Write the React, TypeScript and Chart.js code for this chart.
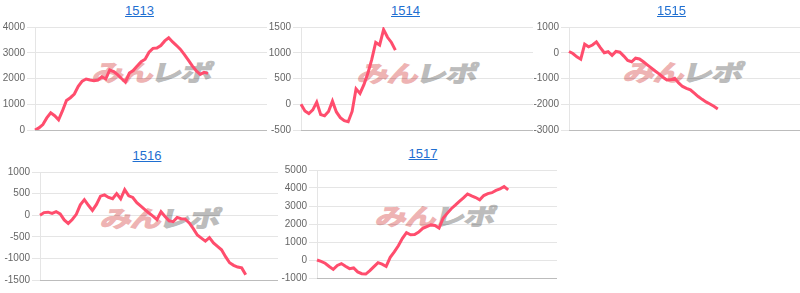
import React, { useEffect, useRef } from "react";
import { Chart, registerables } from "chart.js";

Chart.register(...registerables);

// ---- data ----
const chartTitles = ["1513", "1514", "1515", "1516", "1517"];
const xSlots = Array.from({ length: 60 }, (_, i) => String(i + 1));

const series1513 = [
  0, 80, 210, 470, 667, 556, 393, 750, 1148, 1254, 1396, 1694, 1900, 1980, 1940,
  1910, 1940, 2063, 1980, 2330, 2270, 2150, 2000, 1860, 2210, 2310, 2490, 2650,
  2750, 3020, 3170, 3180, 3280, 3460, 3580, 3420, 3280, 3130, 2930, 2710, 2490,
  2300, 2160, 2240, 2200,
];
const series1514 = [
  0, -130, -180, -110, 40, -200, -225, -140, 60, -150, -260, -320, -340, -140,
  300, 210, 380, 600, 870, 1200, 1150, 1450, 1300, 1200, 1050,
];
const series1515 = [
  50, -30, -160, -250, 330, 230, 300, 420, 200, 0, 40, -100, 50, 20, -130, -300,
  -350, -210, -240, -350, -470, -590, -710, -820, -950, -1060, -1050, -990,
  -1170, -1310, -1380, -1440, -1570, -1700, -1810, -1910, -1990, -2080, -2180,
];
const series1516 = [
  0, 60, 70, 40, 80, 30, -110, -190, -100, 20, 240, 360, 230, 110, 250, 440, 470,
  410, 380, 500, 380, 590, 450, 410, 290, 210, 130, 50, -20, -100, 80, -30, -130,
  -150, -50, -80, -90, -180, -310, -460, -530, -600, -520, -640, -720, -800,
  -960, -1100, -1160, -1200, -1220, -1380,
];
const series1517 = [
  0, -80, -180, -360, -520, -300, -200, -350, -480, -440, -660, -760, -780, -590,
  -370, -150, -230, -360, 150, 450, 790, 1200, 1520, 1400, 1420, 1550, 1760, 1860,
  1950, 1920, 1780, 2320, 2590, 2850, 3050, 3260, 3450, 3670, 3560, 3470, 3340,
  3580, 3690, 3740, 3870, 3950, 4080, 3900,
];
const allSeries = [series1513, series1514, series1515, series1516, series1517];
const yMins = [0, -500, -3000, -1500, -1000];
const yMaxs = [4000, 1500, 1000, 1000, 5000];
const ySteps = [1000, 500, 1000, 500, 1000];

// ---- layout ----
const boxes = [
  { left: 2, top: 19, width: 265, height: 119, yW: 33, titleX: 139.5, titleY: 3, wmX: 153, wmY: 71 },
  { left: 268, top: 19, width: 265, height: 119, yW: 33, titleX: 405.5, titleY: 3, wmX: 418, wmY: 72 },
  { left: 532, top: 19, width: 268, height: 119, yW: 37, titleX: 671.5, titleY: 3, wmX: 684, wmY: 71 },
  { left: 4, top: 164, width: 274, height: 124, yW: 36, titleX: 147, titleY: 147.5, wmX: 161, wmY: 217 },
  { left: 280, top: 162, width: 277, height: 124, yW: 37, titleX: 423, titleY: 145.5, wmX: 436, wmY: 215 },
];

const LINE_COLOR = "rgb(255, 77, 109)";
const FONT = "'Liberation Sans', Arial, sans-serif";

function MiniChart({ idx }: { idx: number }) {
  const ref = useRef<HTMLCanvasElement | null>(null);
  const b = boxes[idx];
  useEffect(() => {
    if (!ref.current) return;
    const chart = new Chart(ref.current, {
      type: "line",
      data: {
        labels: xSlots,
        datasets: [
          {
            data: allSeries[idx],
            borderColor: LINE_COLOR,
            backgroundColor: LINE_COLOR,
            borderWidth: 3,
            pointRadius: 0,
            tension: 0,
            fill: false,
          },
        ],
      },
      options: {
        animation: false,
        responsive: false,
        maintainAspectRatio: false,
        plugins: { legend: { display: false }, tooltip: { enabled: false }, title: { display: false } },
        layout: { padding: 0 },
        scales: {
          x: {
            type: "category",
            offset: false,
            grid: { display: false, drawTicks: false },
            ticks: { display: false },
            border: { display: true, color: "rgba(0,0,0,0.18)" },
          },
          y: {
            min: yMins[idx],
            max: yMaxs[idx],
            ticks: {
              stepSize: ySteps[idx],
              color: "#666",
              padding: 2,
              font: { family: FONT, size: 10 },
              callback: (v: any) => String(v),
            },
            grid: { color: "rgba(0,0,0,0.1)", tickLength: 8 },
            border: { color: "rgba(0,0,0,0.1)" },
            afterFit: (scale: any) => {
              scale.width = b.yW;
            },
          },
        },
      },
    });
    return () => chart.destroy();
  }, [idx]);
  return (
    <>
      <div
        style={{
          position: "absolute",
          left: b.wmX,
          top: b.wmY,
          transform: "translate(-50%, -50%) skewX(-14deg) scale(1.3, 0.95)",
          whiteSpace: "nowrap",
          fontFamily: "'Noto Sans CJK JP', sans-serif",
          fontWeight: 700,
          fontSize: 24,
          letterSpacing: -1,
          lineHeight: "26px",
        }}
      >
        <span style={{ color: "#eeb3b3", WebkitTextStroke: "1.2px #eeb3b3" }}>みん</span>
        <span style={{ color: "#bcbcbc", WebkitTextStroke: "1.2px #bcbcbc", marginLeft: -1 }}>レポ</span>
      </div>
      <canvas
        ref={ref}
        width={b.width}
        height={b.height}
        style={{ position: "absolute", left: b.left, top: b.top, width: b.width, height: b.height }}
      />
      <a
        href="#"
        style={{
          position: "absolute",
          left: b.titleX,
          top: b.titleY,
          transform: "translateX(-50%)",
          fontFamily: FONT,
          fontSize: 13,
          lineHeight: "15px",
          color: "#1f6fd1",
          textDecoration: "underline",
        }}
      >
        {chartTitles[idx]}
      </a>
    </>
  );
}

export default function App() {
  return (
    <div
      style={{
        position: "absolute",
        left: 0,
        top: 0,
        width: 800,
        height: 293,
        background: "#fff",
        overflow: "hidden",
      }}
    >
      {chartTitles.map((_, i) => (
        <MiniChart key={i} idx={i} />
      ))}
    </div>
  );
}
